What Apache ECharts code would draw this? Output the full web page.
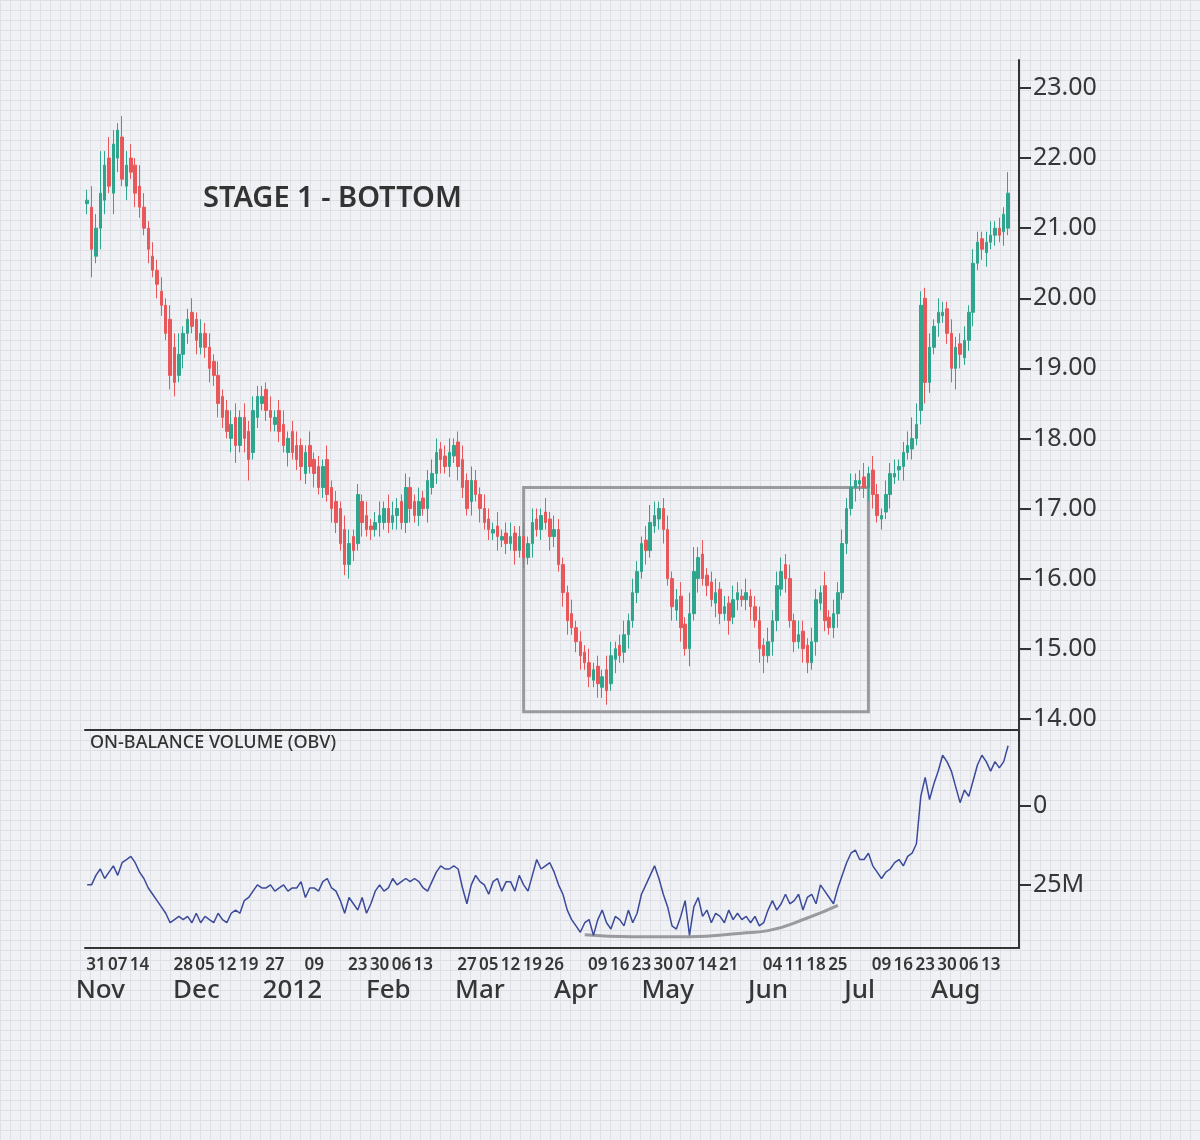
<!DOCTYPE html>
<html><head><meta charset="utf-8">
<script src="https://cdn.jsdelivr.net/npm/echarts@6/dist/echarts.min.js"></script>
<style>
html,body{margin:0;padding:0;width:1200px;height:1140px;overflow:hidden;}
body{background-color:#f0f1f4;
background-image:linear-gradient(#dfe0e6 1px,transparent 1px),linear-gradient(90deg,#dfe0e6 1px,transparent 1px);
background-size:10px 10px;}
#c{width:1200px;height:1140px;}
</style></head><body><div id="c"></div>
<script>
const closes=[21.4,20.7,21.0,21.5,21.9,21.6,22.2,22.4,21.7,21.9,
21.8,21.5,21.3,21.0,20.7,20.4,20.2,19.9,19.5,18.9,
18.8,19.2,19.5,19.7,19.6,19.4,19.5,19.3,19.0,18.9,
18.5,18.3,18.1,18.2,17.9,18.3,18.0,17.7,18.4,18.6,
18.6,18.4,18.3,18.3,18.1,17.9,18.0,17.8,17.7,17.6,
17.8,17.6,17.5,17.3,17.6,17.2,17.0,16.8,16.5,16.2,
16.5,16.4,17.2,16.8,16.7,16.7,16.8,16.9,17.0,16.8,
16.9,17.0,16.8,17.3,17.0,16.9,17.1,17.0,17.4,17.5,
17.8,17.7,17.6,17.8,17.9,17.6,17.3,17.0,17.4,17.2,
17.0,16.8,16.7,16.7,16.6,16.6,16.5,16.6,16.4,16.6,
16.3,16.5,16.8,16.7,16.9,16.8,16.6,16.7,16.2,15.8,
15.4,15.3,15.1,14.9,14.8,14.6,14.7,14.5,14.6,14.4,
14.9,15.0,14.9,15.2,15.4,15.8,16.1,16.5,16.4,16.8,
16.9,17.0,16.7,16.0,15.6,15.7,15.3,15.0,15.5,16.1,
16.3,16.0,15.9,15.7,15.8,15.5,15.6,15.4,15.7,15.8,
15.7,15.8,15.6,15.4,15.0,14.9,15.1,15.4,15.9,16.1,
16.0,15.4,15.1,15.2,15.0,14.8,15.1,15.7,15.8,15.4,
15.3,15.5,15.8,16.5,17.0,17.3,17.4,17.4,17.3,17.5,
17.2,16.9,16.9,17.2,17.5,17.5,17.6,17.8,17.9,18.0,
18.2,19.9,18.8,19.3,19.6,19.8,19.8,19.5,19.0,19.3,
19.2,19.4,19.8,20.5,20.8,20.7,20.8,20.9,21.0,20.9,21.2,21.5];
const opens=[21.35,21.3,20.6,21.0,21.4,22.0,21.5,22.0,22.3,21.6,
22.0,21.9,21.6,21.3,21.0,20.6,20.4,20.1,19.9,19.7,
19.3,18.9,19.2,19.5,19.8,19.7,19.3,19.5,19.3,19.1,
18.9,18.6,18.4,18.0,18.3,17.9,18.3,18.1,17.8,18.3,
18.5,18.7,18.4,18.2,18.4,18.2,17.8,18.1,17.9,17.9,
17.5,17.9,17.7,17.6,17.3,17.7,17.3,17.1,17.0,16.7,
16.2,16.6,16.5,17.1,16.9,16.75,16.7,16.8,16.8,17.0,
16.8,16.9,17.1,16.8,17.3,17.1,16.9,17.15,17.0,17.3,
17.5,17.85,17.75,17.6,17.75,17.95,17.7,17.4,17.1,17.4,
17.2,17.0,16.85,16.65,16.75,16.55,16.65,16.5,16.65,16.4,
16.6,16.3,16.5,16.85,16.7,16.95,16.85,16.6,16.7,16.2,
15.8,15.5,15.3,15.1,14.95,14.8,14.55,14.75,14.45,14.7,
14.5,14.85,15.05,14.95,15.2,15.4,15.8,16.1,16.55,16.4,
16.75,16.85,17.0,16.7,16.0,15.55,15.75,15.35,15.0,15.5,
16.0,16.35,16.05,15.95,15.65,15.85,15.5,15.65,15.45,15.7,
15.75,15.7,15.75,15.6,15.4,15.05,14.9,15.1,15.4,15.85,
16.2,16.0,15.4,15.1,15.25,15.05,14.8,15.1,15.65,15.9,
15.45,15.3,15.5,15.8,16.5,17.0,17.3,17.35,17.45,17.3,
17.55,17.2,16.85,16.95,17.2,17.45,17.55,17.6,17.8,17.85,
18.0,18.4,20.0,18.8,19.3,19.65,19.75,19.85,19.5,19.0,
19.35,19.15,19.4,19.8,20.5,20.85,20.65,20.8,20.9,21.0,20.95,21.0];
const highExt=[.15,.3,.2,.6,.2,.3,.2,.1,.3,.2,
.2,.1,.3,.2,.1,.2,.15,.2,.1,.2,
.2,.3,.1,.15,.2,.1,.2,.15,.2,.1,
.2,.1,.15,.2,.2,.1,.2,.15,.2,.15,
.15,.1,.2,.1,.15,.2,.1,.15,.2,.1,
.1,.2,.1,.15,.1,.2,.1,.15,.1,.2,
.2,.1,.15,.1,.2,.1,.15,.2,.1,.2,
.2,.15,.1,.2,.15,.1,.2,.1,.15,.2,
.2,.1,.15,.2,.1,.15,.2,.1,.2,.15,
.1,.2,.15,.1,.2,.1,.15,.2,.1,.15,
.2,.1,.2,.15,.1,.2,.1,.2,.15,.1,
.1,.2,.1,.15,.1,.2,.1,.15,.1,.2,
.2,.1,.15,.2,.1,.2,.15,.1,.2,.25,
.2,.1,.15,.2,.1,.15,.2,.1,.3,.35,
.15,.2,.1,.15,.2,.1,.15,.1,.2,.15,
.1,.2,.1,.15,.2,.1,.2,.15,.2,.2,
.15,.2,.1,.2,.15,.1,.2,.15,.1,.2,
.1,.2,.15,.2,.15,.2,.1,.15,.2,.1,
.2,.15,.1,.2,.15,.2,.1,.15,.2,.3,
.3,.2,.15,.2,.1,.2,.15,.1,.2,.15,
.15,.2,.1,.2,.15,.1,.15,.2,.1,.15,.1,.3];
const lowExt=[.15,.4,.1,.3,.2,.1,.3,.2,.1,.2,
.1,.2,.15,.1,.2,.1,.2,.15,.1,.2,
.2,.1,.2,.15,.1,.2,.1,.15,.2,.15,
.2,.15,.1,.2,.25,.1,.2,.3,.1,.15,
.1,.15,.2,.1,.15,.1,.2,.1,.15,.2,
.15,.1,.2,.1,.15,.1,.2,.15,.1,.15,
.2,.15,.1,.2,.1,.15,.1,.2,.1,.15,
.1,.2,.1,.15,.2,.1,.15,.1,.2,.1,
.15,.2,.1,.15,.1,.2,.15,.1,.2,.1,
.2,.1,.15,.1,.2,.1,.15,.1,.2,.1,
.15,.1,.2,.1,.15,.1,.2,.15,.1,.2,
.2,.1,.15,.2,.1,.15,.1,.2,.15,.2,
.1,.2,.1,.15,.2,.1,.15,.1,.2,.1,
.1,.15,.2,.1,.2,.15,.2,.1,.25,.1,
.2,.1,.15,.1,.2,.15,.1,.2,.1,.15,
.1,.15,.2,.1,.2,.25,.1,.2,.15,.1,
.2,.1,.15,.1,.2,.15,.1,.2,.1,.15,
.1,.15,.2,.1,.15,.1,.2,.1,.15,.2,
.2,.1,.15,.1,.2,.1,.15,.2,.1,.15,
.1,.2,.3,.15,.1,.2,.1,.15,.2,.3,
.2,.1,.15,.2,.1,.15,.2,.1,.15,.1,.2,.1];
const obv=[-25,-25,-22,-20,-23,-21,-19,-22,-18,-17,
-16,-18,-21,-23,-26,-28,-30,-32,-34,-37,
-36,-35,-36,-35,-37,-34,-37,-35,-36,-37,
-34,-36,-37,-34,-33,-34,-30,-29,-27,-25,
-26,-26,-25,-27,-26,-25,-27,-26,-26,-24,
-29,-26,-26,-27,-24,-23,-26,-27,-30,-34,
-29,-31,-33,-29,-34,-31,-27,-25,-27,-26,
-23,-25,-24,-23,-24,-23,-24,-26,-27,-24,
-21,-19,-20,-20,-19,-20,-26,-31,-25,-22,
-24,-25,-28,-24,-23,-27,-24,-24,-27,-22,
-25,-27,-22,-17,-20,-19,-18,-21,-25,-28,
-33,-36,-38,-40,-37,-36,-41,-36,-33,-37,
-39,-35,-36,-38,-33,-37,-34,-28,-25,-22,
-19,-23,-28,-32,-38,-39,-35,-30,-41,-32,
-29,-35,-33,-37,-34,-35,-37,-33,-36,-34,
-36,-35,-37,-35,-38,-37,-33,-30,-33,-31,
-28,-31,-30,-28,-33,-29,-28,-31,-25,-27,
-29,-31,-26,-22,-18,-15,-14,-17,-17,-15,
-19,-21,-23,-21,-20,-18,-17,-19,-16,-15,
-12,3,9,2,7,11,16,14,11,6,
1,5,3,8,13,16,14,11,14,12,14,19];
// hand-drawn trend curve under OBV (index -> value)
const trendPts=[[114,-40.8],[125,-41.4],[138,-41.4],[150,-40.3],[156,-39.5],[165,-35.5],[172,-31.5]];
const priceTicks=[14,15,16,17,18,19,20,21,22,23];
const obvTicks=[-25,0];
const dayLabelDates=['2011-10-31','2011-11-07','2011-11-14','2011-11-28','2011-12-05','2011-12-12','2011-12-19','2011-12-27','2012-01-09','2012-01-23','2012-01-30','2012-02-06','2012-02-13','2012-02-27','2012-03-05','2012-03-12','2012-03-19','2012-03-26','2012-04-09','2012-04-16','2012-04-23','2012-04-30','2012-05-07','2012-05-14','2012-05-21','2012-06-04','2012-06-11','2012-06-18','2012-06-25','2012-07-09','2012-07-16','2012-07-23','2012-07-30','2012-08-06','2012-08-13'];
const monthNames=['Jan','Feb','Mar','Apr','May','Jun','Jul','Aug','Sep','Oct','Nov','Dec'];
const emptyTrailingDays=2;

// trading-day categories (weekdays)
const dates=[];
{let d=new Date(Date.UTC(2011,9,27));
 while(dates.length<closes.length+emptyTrailingDays){const w=d.getUTCDay(); if(w>0&&w<6){dates.push(d.toISOString().slice(0,10));} d=new Date(d.getTime()+86400000);} }
const candles=closes.map((c,i)=>{const o=opens[i];return [o,c,+(Math.min(o,c)-lowExt[i]).toFixed(2),+(Math.max(o,c)+highExt[i]).toFixed(2)];});
const trend=dates.map(()=>null); trendPts.forEach(p=>{trend[p[0]]=p[1];});
const daySet=new Set(dayLabelDates);
const monthStart=new Set(); dates.forEach((d,i)=>{if(i>0&&d.slice(5,7)!==dates[i-1].slice(5,7))monthStart.add(d);});
const F='Noto Sans'; const ink='#363636';

const chart=echarts.init(document.getElementById('c'));
chart.setOption({
 animation:false,
 grid:[{left:85,right:181,top:60,height:670},{left:85,right:181,top:730,height:218}],
 xAxis:[
  {type:'category',gridIndex:0,data:dates,boundaryGap:true,axisLine:{show:true,onZero:false,lineStyle:{color:'#333',width:2}},axisTick:{show:false},axisLabel:{show:false},splitLine:{show:false}},
  {type:'category',gridIndex:1,data:dates,boundaryGap:true,axisLine:{show:true,onZero:false,lineStyle:{color:'#333',width:2}},axisTick:{show:false},
   axisLabel:{interval:(i,v)=>daySet.has(v),formatter:v=>v.slice(8,10),fontFamily:F,fontSize:17,fontWeight:600,color:ink,margin:9,hideOverlap:false}},
  {type:'category',gridIndex:1,data:dates,position:'bottom',boundaryGap:true,axisLine:{show:false,onZero:false},axisTick:{show:false},
   axisLabel:{interval:(i,v)=>monthStart.has(v),formatter:v=>{const m=+v.slice(5,7);return m===1?v.slice(0,4):monthNames[m-1];},fontFamily:F,fontSize:26,fontWeight:500,color:ink,margin:30,hideOverlap:false}}
 ],
 yAxis:[
  {type:'value',gridIndex:0,position:'right',min:13.84,max:23.4,scale:true,
   axisLine:{show:true,lineStyle:{color:'#333',width:2}},axisTick:{show:true,length:12,lineStyle:{color:'#333',width:2},customValues:priceTicks},
   axisLabel:{customValues:priceTicks,formatter:v=>v.toFixed(2),fontFamily:F,fontSize:25,color:ink,margin:14},splitLine:{show:false}},
  {type:'value',gridIndex:1,position:'right',min:-45,max:24,
   axisLine:{show:true,lineStyle:{color:'#333',width:2}},axisTick:{show:true,length:12,lineStyle:{color:'#333',width:2},customValues:obvTicks},
   axisLabel:{customValues:obvTicks,formatter:v=>v===0?'0':Math.abs(v)+'M',fontFamily:F,fontSize:25,color:ink,margin:14},splitLine:{show:false}}
 ],
 series:[
  {type:'candlestick',xAxisIndex:0,yAxisIndex:0,data:candles,barWidth:3,
   itemStyle:{color:'#2fa58e',color0:'#e8575a',borderColor:'#2fa58e',borderColor0:'#e8575a',borderWidth:1},
   markArea:{silent:true,itemStyle:{color:'rgba(0,0,0,0)',borderColor:'#9a9a9e',borderWidth:3},
    data:[[{xAxis:dates[100],yAxis:14.1},{xAxis:dates[179],yAxis:17.3}]]}},
  {type:'line',xAxisIndex:1,yAxisIndex:1,data:obv,symbol:'none',lineStyle:{color:'#3b4a9a',width:1.5}},
  {type:'line',xAxisIndex:1,yAxisIndex:1,data:trend,connectNulls:true,smooth:true,symbol:'none',lineStyle:{color:'#9a9a9e',width:3},z:1}
 ],
 graphic:[
  {type:'text',left:203,top:184,style:{text:'STAGE 1 - BOTTOM',font:'600 29px "Noto Sans"',fill:'#333'}},
  {type:'text',left:90,top:734,style:{text:'ON-BALANCE VOLUME (OBV)',font:'500 18px "Noto Sans"',fill:'#333'}}
 ]
});
</script></body></html>
